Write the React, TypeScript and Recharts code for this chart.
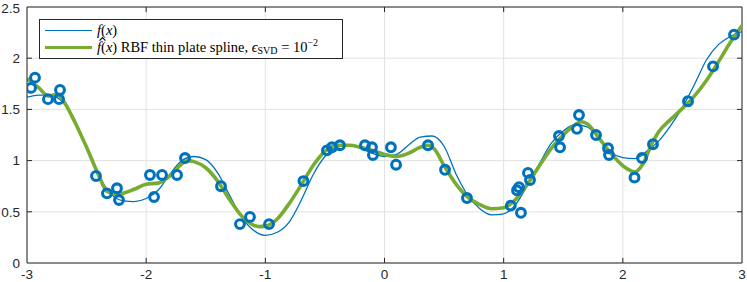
import {
  ComposedChart,
  Line,
  Scatter,
  XAxis,
  YAxis,
  CartesianGrid,
  ReferenceLine,
} from "recharts";

/* ================= DATA ================= */

// true function f(x)
const fX = [
  -3.0, -2.9, -2.8, -2.7, -2.6, -2.5, -2.4, -2.3, -2.2, -2.1, -2.0, -1.9, -1.8,
  -1.7, -1.6, -1.5, -1.4, -1.3, -1.2, -1.1, -1.0, -0.9, -0.8, -0.7, -0.6, -0.5,
  -0.4, -0.3, -0.2, -0.1, 0.0, 0.1, 0.2, 0.3, 0.4, 0.5, 0.6, 0.7, 0.8, 0.9, 1.0,
  1.1, 1.2, 1.3, 1.4, 1.5, 1.6, 1.7, 1.8, 1.9, 2.0, 2.1, 2.2, 2.3, 2.4, 2.5, 2.6,
  2.7, 2.8, 2.9, 3.0,
];
const fY = [
  1.62, 1.64, 1.64, 1.57, 1.4, 1.12, 0.86, 0.68, 0.61, 0.6, 0.63, 0.71, 0.87,
  1.0, 1.04, 1.01, 0.88, 0.66, 0.45, 0.32, 0.27, 0.3, 0.4, 0.61, 0.86, 1.04,
  1.13, 1.15, 1.12, 1.07, 1.04, 1.06, 1.15, 1.23, 1.24, 1.14, 0.87, 0.66, 0.53,
  0.47, 0.48, 0.57, 0.76, 0.97, 1.17, 1.29, 1.35, 1.33, 1.21, 1.08, 1.03, 1.02,
  1.09, 1.19, 1.34, 1.52, 1.74, 1.98, 2.13, 2.21, 2.26,
];

// RBF thin plate spline fit
const gX = [
  -3.0, -2.9, -2.82, -2.75, -2.7, -2.6, -2.5, -2.4, -2.33, -2.25, -2.1, -2.0,
  -1.9, -1.8, -1.7, -1.65, -1.6, -1.5, -1.4, -1.3, -1.2, -1.1, -1.05, -1.0,
  -0.9, -0.8, -0.7, -0.6, -0.5, -0.4, -0.3, -0.2, -0.1, 0.0, 0.1, 0.2, 0.3,
  0.36, 0.42, 0.5, 0.6, 0.7, 0.8, 0.9, 1.0, 1.1, 1.2, 1.3, 1.4, 1.5, 1.6, 1.65,
  1.7, 1.8, 1.9, 2.0, 2.1, 2.17, 2.25, 2.3, 2.4, 2.5, 2.6, 2.7, 2.8, 2.9, 3.0,
];
const gY = [
  1.8, 1.71, 1.63, 1.645, 1.59, 1.38, 1.13, 0.86, 0.7, 0.67, 0.72, 0.77, 0.78,
  0.85, 0.97, 1.0, 0.99, 0.93, 0.8, 0.62, 0.46, 0.37, 0.355, 0.36, 0.43, 0.58,
  0.76, 0.95, 1.09, 1.15, 1.15, 1.13, 1.1, 1.06, 1.04, 1.07, 1.13, 1.15, 1.11,
  0.95, 0.77, 0.64, 0.57, 0.53, 0.54, 0.62, 0.77, 0.95, 1.12, 1.25, 1.35, 1.38,
  1.36, 1.22, 1.07, 0.95, 0.89, 0.97, 1.18, 1.28, 1.4, 1.51, 1.63, 1.78, 1.96,
  2.15, 2.32,
];

// noisy samples
const sX = [
  -2.966, -2.933, -2.824, -2.731, -2.723, -2.421, -2.329, -2.245, -2.228,
  -1.968, -1.934, -1.867, -1.741, -1.674, -1.372, -1.213, -1.129, -0.969,
  -0.68, -0.483, -0.441, -0.374, -0.164, -0.105, -0.097, 0.054, 0.097, 0.365,
  0.508, 0.692, 1.06, 1.145, 1.112, 1.129, 1.221, 1.204, 1.464, 1.473, 1.615,
  1.632, 1.775, 1.876, 1.884, 2.098, 2.161, 2.253, 2.547, 2.757, 2.933,
];
const sY = [
  1.71, 1.81, 1.6, 1.6, 1.69, 0.85, 0.68, 0.73, 0.615, 0.86, 0.645, 0.86, 0.86,
  1.025, 0.75, 0.38, 0.45, 0.38, 0.8, 1.1, 1.13, 1.15, 1.15, 1.13, 1.055, 1.13,
  0.96, 1.15, 0.91, 0.635, 0.56, 0.49, 0.71, 0.74, 0.81, 0.88, 1.24, 1.13, 1.31,
  1.445, 1.25, 1.12, 1.055, 0.835, 1.025, 1.16, 1.58, 1.92, 2.23,
];

const xTicks = [-3, -2, -1, 0, 1, 2, 3];
const yTicks = [0, 0.5, 1, 1.5, 2, 2.5];

const fData = fX.map((x, i) => ({ x, y: fY[i] }));
const gData = gX.map((x, i) => ({ x, y: gY[i] }));
const sData = sX.map((x, i) => ({ x, y: sY[i] }));

/* ================= CHART ================= */

const AXIS = "#262626";
const BLUE = "#0072BD";
const GREEN = "#77AC30";

const innerX = xTicks.slice(1, -1);
const innerY = yTicks.slice(1, -1);

export default function App() {
  return (
    <div style={wrapper}>
      <ComposedChart
        width={747}
        height={282}
        margin={{ top: 7, right: 5, left: 0, bottom: 0 }}
      >
        <CartesianGrid stroke="#e2e2e2" strokeWidth={1} />
        <XAxis
          type="number"
          dataKey="x"
          domain={[-3, 3]}
          ticks={xTicks}
          allowDataOverflow
          height={19}
          tickSize={0}
          tickMargin={6}
          stroke={AXIS}
          tick={{ fill: AXIS, fontSize: 13.5 }}
        />
        <YAxis
          type="number"
          dataKey="y"
          domain={[0, 2.5]}
          ticks={yTicks}
          allowDataOverflow
          width={27}
          tickSize={0}
          tickMargin={7}
          stroke={AXIS}
          tick={{ fill: AXIS, fontSize: 13.5 }}
        />

        {/* box */}
        <ReferenceLine y={2.5} stroke={AXIS} />
        <ReferenceLine x={3} stroke={AXIS} />

        {/* inward ticks */}
        {innerX.map((t) => (
          <ReferenceLine key={"b" + t} segment={[{ x: t, y: 0 }, { x: t, y: 0.05 }]} stroke={AXIS} />
        ))}
        {innerX.map((t) => (
          <ReferenceLine key={"t" + t} segment={[{ x: t, y: 2.5 }, { x: t, y: 2.45 }]} stroke={AXIS} />
        ))}
        {innerY.map((t) => (
          <ReferenceLine key={"l" + t} segment={[{ x: -3, y: t }, { x: -2.958, y: t }]} stroke={AXIS} />
        ))}
        {innerY.map((t) => (
          <ReferenceLine key={"r" + t} segment={[{ x: 3, y: t }, { x: 2.958, y: t }]} stroke={AXIS} />
        ))}

        <Line
          data={fData}
          dataKey="y"
          type="monotone"
          stroke={BLUE}
          strokeWidth={1.3}
          dot={false}
          isAnimationActive={false}
        />
        <Scatter
          data={sData}
          dataKey="y"
          isAnimationActive={false}
          shape={(p: any) => (
            <circle cx={p.cx} cy={p.cy} r={4.4} fill="none" stroke={BLUE} strokeWidth={3.1} />
          )}
        />
        <Line
          data={gData}
          dataKey="y"
          type="monotone"
          stroke={GREEN}
          strokeWidth={3.6}
          dot={false}
          isAnimationActive={false}
        />
      </ComposedChart>

      {/* LEGEND */}
      <div style={legendBox}>
        <div style={legendRow}>
          <span style={{ ...swatch, borderTop: `1.3px solid ${BLUE}` }} />
          <span style={ital}>f</span>(<span style={ital}>x</span>)
        </div>
        <div style={legendRow}>
          <span style={{ ...swatch, borderTop: `3.6px solid ${GREEN}` }} />
          <span style={{ position: "relative", display: "inline-block", ...ital }}>
            f
            <svg width={7} height={4} style={hat}>
              <polyline points="0.6,3.6 3.5,0.6 6.4,3.6" fill="none" stroke="#000" strokeWidth={1.1} />
            </svg>
          </span>
          (<span style={ital}>x</span>) RBF thin plate spline,&nbsp;
          <span style={ital}>ϵ</span>
          <span style={sub}>SVD</span>&nbsp;=&nbsp;10
          <span style={sup}>−2</span>
        </div>
      </div>
    </div>
  );
}

/* ================= STYLES ================= */

const wrapper: any = {
  position: "absolute",
  left: 0,
  top: 0,
  width: 747,
  height: 282,
  fontFamily: "'Liberation Sans', Arial, sans-serif",
};

const legendBox: any = {
  position: "absolute",
  left: 39,
  top: 19,
  width: 304,
  height: 40,
  border: `1px solid ${AXIS}`,
  background: "#fff",
  fontFamily: "'Liberation Serif', 'DejaVu Serif', serif",
  fontSize: 14.5,
  color: "#000",
  paddingTop: 2,
  boxSizing: "border-box",
};

const legendRow: any = {
  display: "flex",
  alignItems: "center",
  height: 17,
  whiteSpace: "nowrap",
};

const swatch: any = {
  display: "inline-block",
  width: 47,
  marginLeft: 5,
  marginRight: 5,
  height: 0,
};

const ital: any = { fontStyle: "italic" };

const hat: any = {
  position: "absolute",
  left: 2,
  top: -2,
  overflow: "visible",
};

const sub: any = { fontSize: 10, position: "relative", top: 3 };

const sup: any = { fontSize: 10, position: "relative", top: -5 };
